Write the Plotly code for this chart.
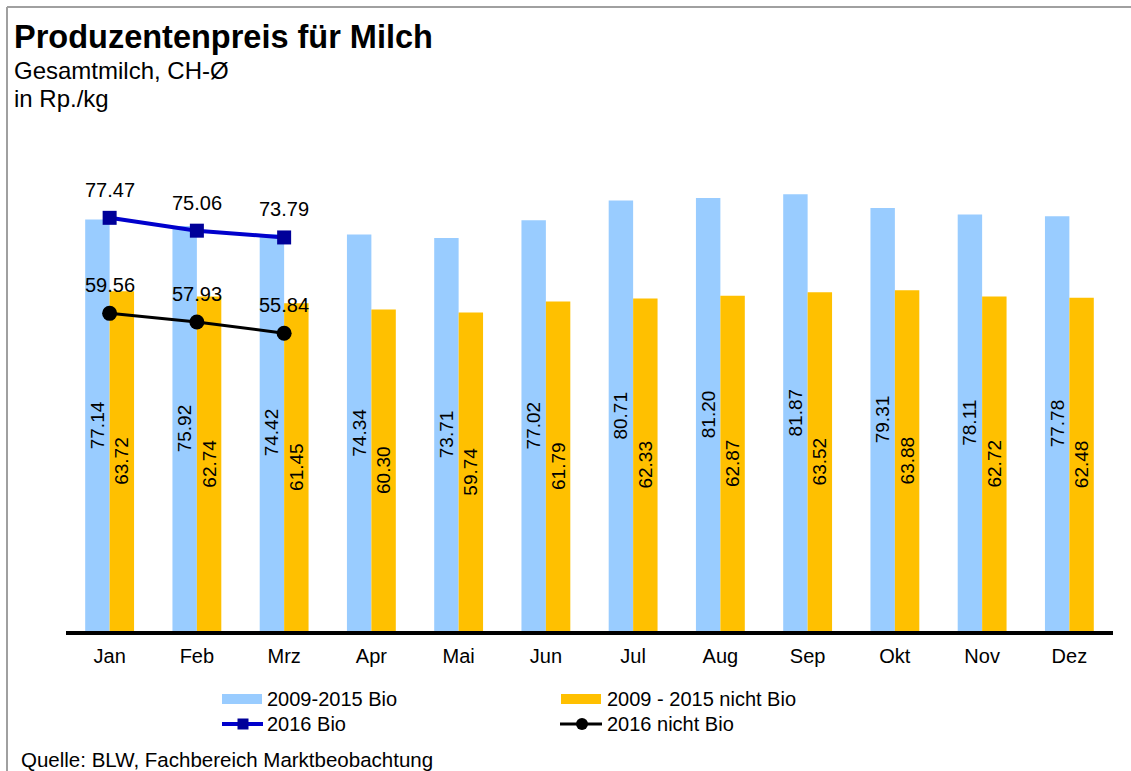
import plotly.graph_objects as go

# Monthly producer prices for milk (Rp./kg)
months = ["Jan", "Feb", "Mrz", "Apr", "Mai", "Jun", "Jul", "Aug", "Sep", "Okt", "Nov", "Dez"]
bio_2009_2015 = [77.14, 75.92, 74.42, 74.34, 73.71, 77.02, 80.71, 81.20, 81.87, 79.31, 78.11, 77.78]
nicht_bio_2009_2015 = [63.72, 62.74, 61.45, 60.30, 59.74, 61.79, 62.33, 62.87, 63.52, 63.88, 62.72, 62.48]
months_2016 = ["Jan", "Feb", "Mrz"]
bio_2016 = [77.47, 75.06, 73.79]
nicht_bio_2016 = [59.56, 57.93, 55.84]

FONT = "Liberation Sans, Arial, sans-serif"
C_BIO_BAR = "#99CCFF"
C_NBIO_BAR = "#FFC000"
C_BIO_LINE = "#0000CC"
C_BIO_MARK = "#000099"
C_BLACK = "#000000"

W, H = 1131, 771
L, R, T, B = 66, 18, 151, 140
PW, PH = W - L - R, H - T - B


def px(x):
    return (x - L) / PW


def py(y):
    return (H - B - y) / PH


fig = go.Figure()

fig.add_trace(go.Bar(
    x=months, y=bio_2009_2015, name="2009-2015 Bio",
    marker=dict(color=C_BIO_BAR, line=dict(width=0)),
    text=[f"{v:.2f}" for v in bio_2009_2015],
    textposition="inside", insidetextanchor="middle", textangle=-90,
    constraintext="none",
    textfont=dict(family=FONT, size=19, color="black"),
    showlegend=False,
))
fig.add_trace(go.Bar(
    x=months, y=nicht_bio_2009_2015, name="2009 - 2015 nicht Bio",
    marker=dict(color=C_NBIO_BAR, line=dict(width=0)),
    text=[f"{v:.2f}" for v in nicht_bio_2009_2015],
    textposition="inside", insidetextanchor="middle", textangle=-90,
    constraintext="none",
    textfont=dict(family=FONT, size=19, color="black"),
    showlegend=False,
))
fig.add_trace(go.Scatter(
    x=months_2016, y=bio_2016, name="2016 Bio", mode="lines+markers",
    line=dict(color=C_BIO_LINE, width=4),
    marker=dict(symbol="square", size=14, color=C_BIO_MARK),
    showlegend=False, cliponaxis=False,
))
fig.add_trace(go.Scatter(
    x=months_2016, y=nicht_bio_2016, name="2016 nicht Bio", mode="lines+markers",
    line=dict(color=C_BLACK, width=3),
    marker=dict(symbol="circle", size=15, color=C_BLACK),
    showlegend=False, cliponaxis=False,
))

annotations = []
# value labels above the 2016 points
for xs, ys in ((months_2016, bio_2016), (months_2016, nicht_bio_2016)):
    for m, v in zip(xs, ys):
        annotations.append(dict(
            x=m, y=v, xref="x", yref="y", text=f"{v:.2f}", showarrow=False,
            yshift=28, font=dict(family=FONT, size=20, color="black"),
        ))

# header and footer texts
for text, x, y, size, bold in [
    ("Produzentenpreis für Milch", 12, 37, 32.5, True),
    ("Gesamtmilch, CH-Ø", 12, 70, 24, False),
    ("in Rp./kg", 12, 98, 24, False),
    ("Quelle: BLW, Fachbereich Marktbeobachtung", 19, 759, 20.5, False),
]:
    annotations.append(dict(
        x=px(x), y=py(y), xref="paper", yref="paper",
        text=f"<b>{text}</b>" if bold else text,
        showarrow=False, xanchor="left", yanchor="middle",
        font=dict(family=FONT, size=size, color="black"),
    ))

# legend labels
for text, x, y in [
    ("2009-2015 Bio", 265, 699),
    ("2009 - 2015 nicht Bio", 605, 699),
    ("2016 Bio", 265, 724),
    ("2016 nicht Bio", 605, 724),
]:
    annotations.append(dict(
        x=px(x), y=py(y), xref="paper", yref="paper", text=text,
        showarrow=False, xanchor="left", yanchor="middle",
        font=dict(family=FONT, size=20, color="black"),
    ))

shapes = [
    # frame
    dict(type="line", xref="paper", yref="paper", x0=px(7), x1=px(W), y0=py(7), y1=py(7),
         line=dict(color="#A0A0A0", width=2)),
    dict(type="line", xref="paper", yref="paper", x0=px(7), x1=px(7), y0=py(7), y1=py(H),
         line=dict(color="#A0A0A0", width=2)),
    # legend swatches
    dict(type="rect", xref="paper", yref="paper", x0=px(222), x1=px(262), y0=py(694), y1=py(704),
         fillcolor=C_BIO_BAR, line=dict(width=0)),
    dict(type="rect", xref="paper", yref="paper", x0=px(561), x1=px(601), y0=py(694), y1=py(704),
         fillcolor=C_NBIO_BAR, line=dict(width=0)),
    dict(type="line", xref="paper", yref="paper", x0=px(222), x1=px(263), y0=py(724), y1=py(724),
         line=dict(color=C_BIO_LINE, width=4)),
    dict(type="rect", xref="paper", yref="paper", x0=px(237.5), x1=px(248.5), y0=py(718.5), y1=py(729.5),
         fillcolor=C_BIO_MARK, line=dict(width=0)),
    dict(type="line", xref="paper", yref="paper", x0=px(560), x1=px(602), y0=py(724), y1=py(724),
         line=dict(color=C_BLACK, width=3)),
    dict(type="circle", xref="paper", yref="paper", x0=px(576), x1=px(588), y0=py(718), y1=py(730),
         fillcolor=C_BLACK, line=dict(width=0)),
]

fig.update_layout(
    width=W, height=H, autosize=False,
    margin=dict(l=L, r=R, t=T, b=B, pad=0),
    paper_bgcolor="white", plot_bgcolor="white",
    barmode="group", bargap=0.44, bargroupgap=0,
    font=dict(family=FONT, color="black"),
    annotations=annotations, shapes=shapes,
    showlegend=False,
)
fig.update_xaxes(
    type="category", range=[-0.5, 11.5], showline=True, linecolor="black", linewidth=4,
    ticks="", showgrid=False, zeroline=False, ticklabelstandoff=4,
    tickfont=dict(family=FONT, size=20, color="black"),
)
fig.update_yaxes(range=[0, 90], visible=False, showgrid=False, zeroline=False)

fig.write_html("out.html")
